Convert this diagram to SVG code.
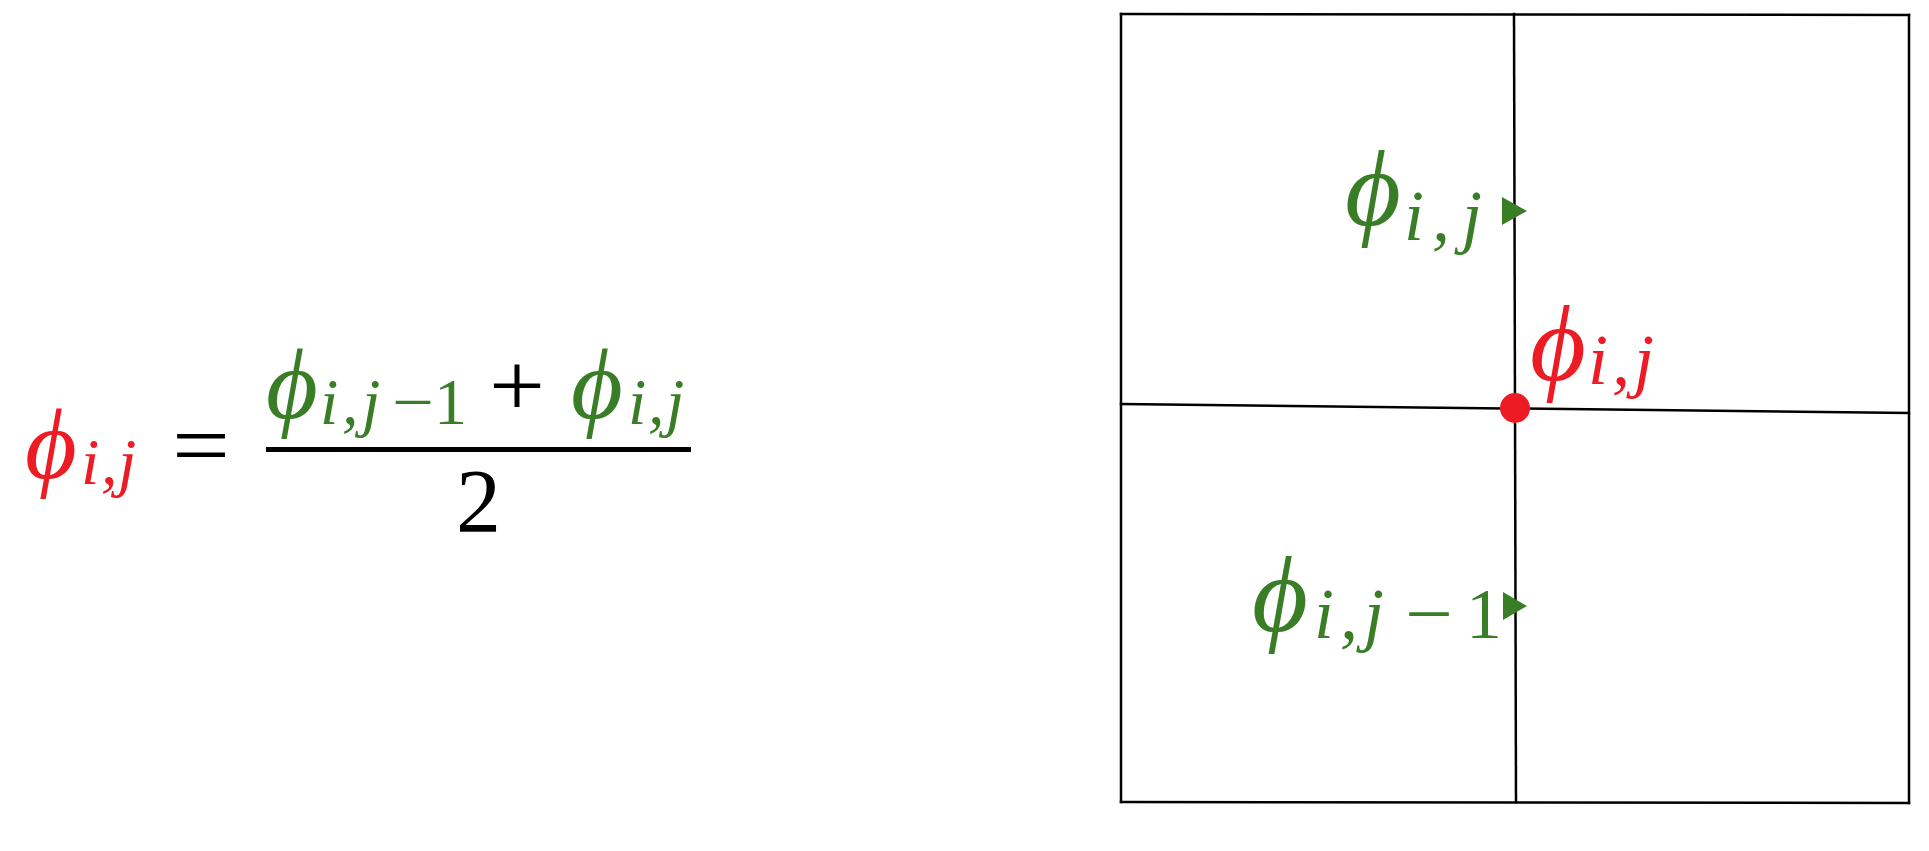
<svg xmlns="http://www.w3.org/2000/svg" width="1929" height="851" viewBox="0 0 1929 851">
<style>
.it{font-style:italic;}
.up{font-style:normal;}
.red{fill:#ED1C24;}
.grn{fill:#3A7D27;}
.blk{fill:#000;}
.ln{stroke:#000;stroke-width:2.5;fill:none;stroke-linecap:square;}
</style>
<rect width="1929" height="851" fill="#fff"/>
<g id="equation" font-family="'Liberation Serif', 'DejaVu Serif', serif">
  <text class="it red" x="25" y="478" font-size="100">ϕ</text>
  <text class="it red" x="81 101 118" y="484" font-size="66">i,j</text>
  <text class="blk" x="172" y="476" font-size="92" textLength="58" lengthAdjust="spacingAndGlyphs">=</text>
  <text class="it grn" x="266" y="418" font-size="100">ϕ</text>
  <text class="it grn" y="424" font-size="66"><tspan x="320">i</tspan><tspan x="342">,</tspan><tspan x="362">j</tspan><tspan class="up" x="392" textLength="42" lengthAdjust="spacingAndGlyphs">−</tspan><tspan class="up" x="434">1</tspan></text>
  <text class="blk" x="489" y="416" font-size="92" textLength="56" lengthAdjust="spacingAndGlyphs">+</text>
  <text class="it grn" x="571" y="418" font-size="100">ϕ</text>
  <text class="it grn" x="628 648 666" y="424" font-size="66">i,j</text>
  <rect x="266" y="447" width="425" height="5" fill="#000"/>
  <text class="blk" x="456" y="532" font-size="90">2</text>
</g>
<g id="grid">
  <line class="ln" x1="1121" y1="14" x2="1909" y2="15"/>
  <line class="ln" x1="1121" y1="802" x2="1909" y2="803"/>
  <line class="ln" x1="1121" y1="14" x2="1121" y2="802"/>
  <line class="ln" x1="1909" y1="15" x2="1909" y2="803"/>
  <line class="ln" x1="1514" y1="14" x2="1516" y2="802"/>
  <line class="ln" x1="1121" y1="404" x2="1909" y2="413"/>
</g>
<g id="node-phi-top" font-family="'Liberation Serif', 'DejaVu Serif', serif">
  <polygon class="grn" points="1502,197 1527,211 1502,225"/>
  <text class="it grn" x="1345" y="225" font-size="108">ϕ</text>
  <text class="it grn" x="1404 1432 1462" y="240" font-size="72">i,j</text>
</g>
<g id="node-phi-center" font-family="'Liberation Serif', 'DejaVu Serif', serif">
  <circle cx="1515" cy="408" r="15" fill="#ED1C24"/>
  <text class="it red" x="1530" y="380" font-size="108">ϕ</text>
  <text class="it red" x="1588 1612 1634" y="384" font-size="72">i,j</text>
</g>
<g id="node-phi-bottom" font-family="'Liberation Serif', 'DejaVu Serif', serif">
  <polygon class="grn" points="1503,592 1527,606 1503,620"/>
  <text class="it grn" x="1252" y="631" font-size="108">ϕ</text>
  <text class="it grn" y="638" font-size="72"><tspan x="1314">i</tspan><tspan x="1340">,</tspan><tspan x="1364">j</tspan><tspan class="up" x="1405" textLength="48" lengthAdjust="spacingAndGlyphs">−</tspan><tspan class="up" x="1466">1</tspan></text>
</g>
</svg>
